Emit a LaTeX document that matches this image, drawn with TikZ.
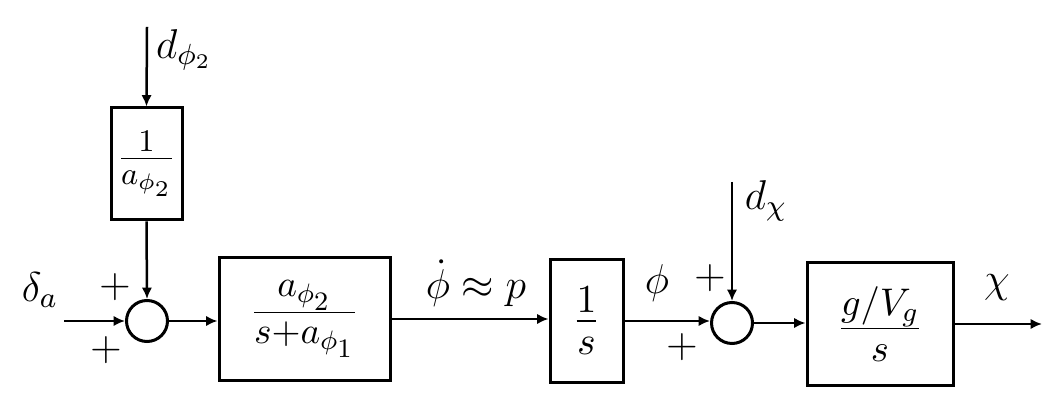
\RequirePackage{fix-cm}
\documentclass[tikz,border=0pt]{standalone}
\usetikzlibrary{arrows.meta}
\begin{document}
\begin{tikzpicture}[x=0.3pt,y=-0.3pt,
  blk/.style={draw, line width=0.9pt, inner sep=0pt, anchor=center},
  sumnode/.style={draw, circle, line width=0.9pt, minimum size=12.3pt, inner sep=0pt},
  lbl/.style={inner sep=0pt, font=\fontsize{12.5}{15}\selectfont},
  conn/.style={line width=0.75pt, -{Latex[length=3.4pt,width=3.1pt]}}]
\useasboundingbox (0,0) rectangle (1052,408);
% blocks
\node[blk, minimum width=21.3pt, minimum height=33.6pt, font=\fontsize{13.5}{16}\selectfont] (b1) at (146.5,164) {$\frac{1}{a_{\phi_2}}$};
\node[sumnode] (s1) at (147,321) {};
\node[blk, minimum width=51.3pt, minimum height=36.9pt, font=\fontsize{16}{19}\selectfont] (b2) at (304.5,319) {$\frac{a_{\phi_2}}{s+a_{\phi_1}}$};
\node[blk, minimum width=21.9pt, minimum height=36.9pt, font=\fontsize{17}{20}\selectfont] (b3) at (586.5,321) {$\frac{1}{s}$};
\node[sumnode] (s2) at (732,323) {};
\node[blk, minimum width=43.8pt, minimum height=36.9pt, font=\fontsize{16.5}{19}\selectfont] (b4) at (880,324) {$\frac{g/V_g}{s}$};
% free ends
\coordinate (t1) at (147,27);
\coordinate (in1) at (64,321);
\coordinate (t2) at (732,182);
\coordinate (out) at (1042,324);
% connectors
\draw[conn] (t1) -- (b1.north);
\draw[conn] (b1.south) -- (s1.north);
\draw[conn] (in1) -- (s1.west);
\draw[conn] (s1.east) -- (s1.east -| b2.west);
\draw[conn] (b2.east) -- (b2.east -| b3.west);
\draw[conn] (b3.east) -- (b3.east -| s2.west);
\draw[conn] (t2) -- (s2.north);
\draw[conn] (s2.east) -- (s2.east -| b4.west);
\draw[conn] (b4.east) -- (out);
% labels
\node[lbl] (ld1) at (184,50) {$d_{\phi_2}$};
\node[lbl] (lda) at (40,290) {$\delta_a$};
\node[lbl] (p1) at (115,287) {$+$};
\node[lbl] (p2) at (106,350) {$+$};
\node[lbl] (lp) at (476,283) {$\dot\phi\approx p$};
\node[lbl] (lphi) at (657,283) {$\phi$};
\node[lbl] (p3) at (710,278) {$+$};
\node[lbl] (p4) at (682,347) {$+$};
\node[lbl] (ldc) at (766,201) {$d_\chi$};
\node[lbl] (lchi) at (997,288) {$\chi$};
\end{tikzpicture}
\end{document}
